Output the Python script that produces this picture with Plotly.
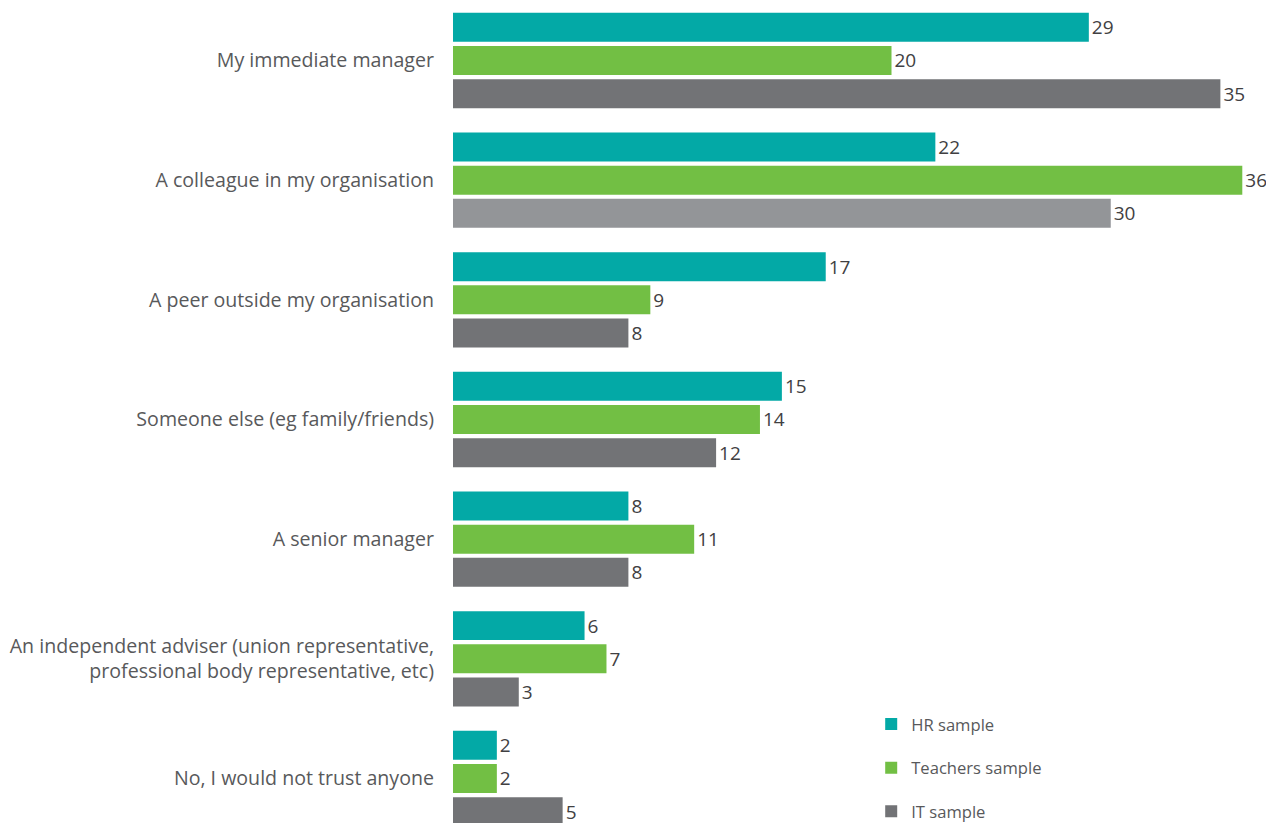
import plotly.graph_objects as go

categories = [
    "My immediate manager",
    "A colleague in my organisation",
    "A peer outside my organisation",
    "Someone else (eg family/friends)",
    "A senior manager",
    "An independent adviser (union representative,<br>professional body representative, etc)",
    "No, I would not trust anyone",
]
hr_values = [29, 22, 17, 15, 8, 6, 2]
teachers_values = [20, 36, 9, 14, 11, 7, 2]
it_values = [35, 30, 8, 12, 8, 3, 5]

series_names = ["HR sample", "Teachers sample", "IT sample"]
teal = "#03A9A6"
green = "#72BF44"
grey = "#727376"
light_grey = "#939598"
it_colors = [grey, light_grey, grey, grey, grey, grey, grey]

FONT = "Open Sans"

fig = go.Figure()
for name, vals, col in [
    (series_names[0], hr_values, teal),
    (series_names[1], teachers_values, green),
    (series_names[2], it_values, it_colors),
]:
    fig.add_trace(go.Bar(
        y=categories, x=vals, name=name, orientation="h",
        marker=dict(color=col, line=dict(width=0)),
        text=[str(v) for v in vals], textposition="outside",
        textfont=dict(size=19, color="#414042", family=FONT),
        cliponaxis=False, legendgroup=name,
    ))

fig.update_layout(
    width=1266, height=815,
    margin=dict(l=445, r=1, t=0, b=0, autoexpand=False),
    paper_bgcolor="white", plot_bgcolor="white",
    barmode="group", bargap=0.168, bargroupgap=0.127,
    font=dict(family=FONT, color="#58595b", size=19.6),
    xaxis=dict(range=[0, 37.4], visible=False, showgrid=False, zeroline=False),
    yaxis=dict(
        categoryorder="array", categoryarray=categories,
        range=[6.372, -0.4387], showgrid=False, zeroline=False,
        showline=False, ticks="", ticklabelstandoff=18,
        tickfont=dict(size=19.6, color="#58595b", family=FONT),
    ),
    legend=dict(
        x=0.51, y=0.1426, xanchor="left", yanchor="top",
        font=dict(size=16.6, color="#58595b", family=FONT),
        tracegroupgap=19, traceorder="grouped", bgcolor="rgba(0,0,0,0)",
    ),
    showlegend=True,
)

fig.write_html("out.html")
